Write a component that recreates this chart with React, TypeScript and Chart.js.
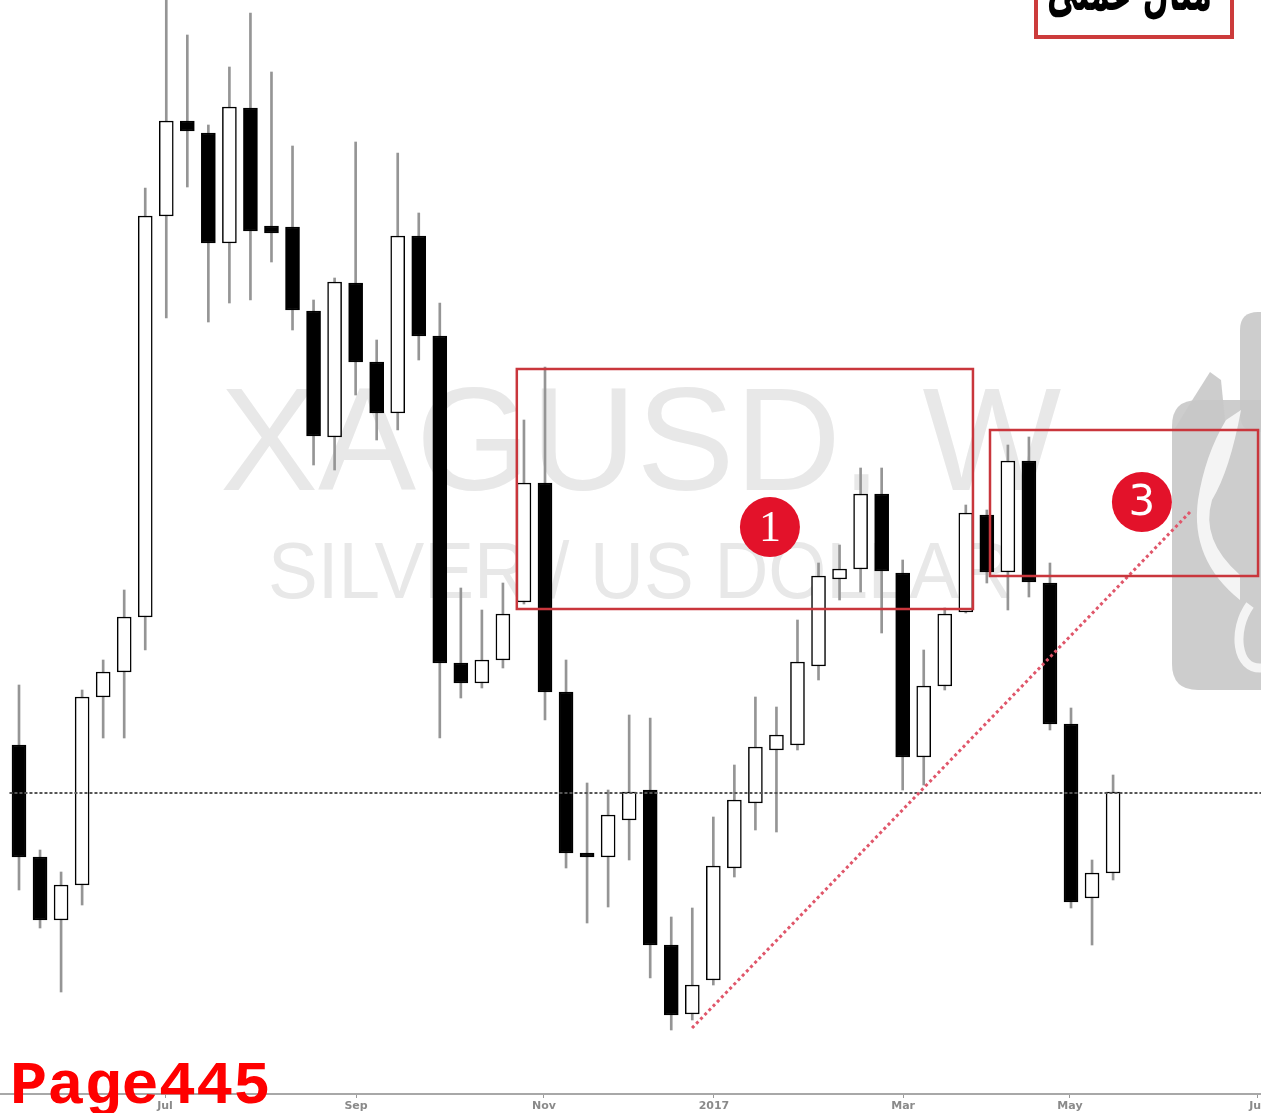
import React, { useEffect, useRef } from 'react';
import { Chart, registerables } from 'chart.js';

Chart.register(...registerables);

// ---- Weekly XAGUSD candles (index = week number) ----
const OPEN = [17.275, 16.715, 16.40, 16.575, 17.515, 17.64, 17.915, 19.92, 20.395, 20.335, 19.785, 20.46, 19.87, 19.865, 19.445, 18.815, 19.585, 19.19, 18.935, 19.82, 19.32, 17.685, 17.585, 17.70, 17.99, 18.585, 17.54, 16.735, 16.715, 16.90, 17.05, 16.275, 15.93, 16.10, 16.66, 16.985, 17.25, 17.275, 17.67, 18.105, 18.155, 18.53, 18.135, 17.215, 17.57, 17.94, 18.425, 18.14, 18.695, 18.085, 17.38, 16.51, 16.635];
const HIGH = [17.575, 16.75, 16.64, 17.55, 17.70, 18.05, 20.06, 21.05, 20.825, 20.375, 20.665, 20.935, 20.64, 20.27, 19.50, 19.61, 20.29, 19.30, 20.235, 19.935, 19.485, 18.06, 17.95, 18.085, 18.90, 19.165, 17.70, 17.085, 17.05, 17.425, 17.41, 16.415, 16.46, 16.915, 17.175, 17.515, 17.465, 17.90, 18.185, 18.275, 18.66, 18.66, 18.20, 17.75, 17.96, 18.475, 18.45, 18.775, 18.815, 18.185, 17.46, 16.70, 17.125];
const LOW = [16.55, 16.36, 16.04, 16.475, 17.31, 17.31, 17.75, 19.41, 20.065, 19.39, 19.485, 19.50, 19.69, 19.35, 18.675, 18.65, 19.025, 18.80, 18.85, 19.20, 17.31, 17.51, 17.56, 17.66, 17.98, 17.40, 16.66, 16.385, 16.465, 16.70, 16.11, 15.85, 15.90, 16.075, 16.615, 16.85, 16.84, 17.25, 17.60, 18.00, 18.04, 17.835, 17.05, 17.075, 17.55, 17.935, 18.085, 17.95, 18.015, 17.35, 16.46, 16.275, 16.60];
const CLOSE = [16.715, 16.40, 16.575, 17.515, 17.64, 17.915, 19.92, 20.395, 20.345, 19.785, 20.465, 19.845, 19.835, 19.45, 18.82, 19.59, 19.19, 18.935, 19.82, 19.32, 17.685, 17.585, 17.70, 17.93, 18.585, 17.54, 16.735, 16.715, 16.925, 17.04, 16.275, 15.925, 16.075, 16.67, 17.00, 17.265, 17.325, 17.69, 18.12, 18.155, 18.53, 18.145, 17.215, 17.57, 17.93, 18.435, 18.14, 18.695, 18.09, 17.38, 16.49, 16.635, 17.04];

// ---- Axis ----
const TICK_POS = [6.94, 16.02, 24.95, 33.03, 42.02, 49.95, 58.84];
const TICK_LABELS = ['Jul', 'Sep', 'Nov', '2017', 'Mar', 'May', 'Jul'];
const X_MIN = -0.903;
const X_MAX = 59.03;
const Y_MIN = 15.53;
const Y_MAX = 21.0;

// ---- Annotations (data units) ----
const LEVEL_PRICE = 17.035;
const TREND_X = [31.99, 55.75];
const TREND_Y = [15.86, 18.45];
const ZONE_X0 = [23.66, 46.15];
const ZONE_X1 = [45.34, 58.89];
const ZONE_TOP = [19.155, 18.85];
const ZONE_BOTTOM = [17.955, 18.12];
const BADGE_X = [35.69, 53.37];
const BADGE_Y = [18.365, 18.49];
const BADGE_TEXT = ['1', '3'];

const decorPlugin = {
  id: 'decor',
  beforeDraw(chart: any) {
    const { ctx, width, height } = chart;
    ctx.save();
    ctx.fillStyle = '#ffffff';
    ctx.fillRect(0, 0, width, height);
    ctx.restore();
  },
  beforeDatasetsDraw(chart: any) {
    const { ctx } = chart;
    ctx.save();
    // watermark text
    ctx.fillStyle = '#e8e8e8';
    ctx.textBaseline = 'alphabetic';
    ctx.textAlign = 'left';
    ctx.font = '147px "Liberation Sans", Arial, sans-serif';
    ctx.fillText('XAGUSD, W', 220, 490);
    ctx.font = '80px "Liberation Sans", Arial, sans-serif';
    ctx.fillText('SILVER / US DOLLAR', 268, 598, 745);

    // logo watermark at right
    ctx.fillStyle = 'rgba(200,200,200,0.9)';
    const rr = (x: number, y: number, w: number, h: number, r: number) => {
      ctx.beginPath();
      ctx.moveTo(x + r, y);
      ctx.lineTo(x + w - r, y);
      ctx.quadraticCurveTo(x + w, y, x + w, y + r);
      ctx.lineTo(x + w, y + h - r);
      ctx.quadraticCurveTo(x + w, y + h, x + w - r, y + h);
      ctx.lineTo(x + r, y + h);
      ctx.quadraticCurveTo(x, y + h, x, y + h - r);
      ctx.lineTo(x, y + r);
      ctx.quadraticCurveTo(x, y, x + r, y);
      ctx.closePath();
      ctx.fill();
    };
    rr(1172, 400, 130, 290, 26);
    rr(1240, 312, 60, 120, 18);
    ctx.beginPath();
    ctx.moveTo(1174, 430);
    ctx.quadraticCurveTo(1192, 400, 1210, 372);
    ctx.lineTo(1221, 380);
    ctx.lineTo(1226, 430);
    ctx.closePath();
    ctx.fill();
    // light face area
    ctx.fillStyle = '#f4f4f4';
    ctx.beginPath();
    ctx.moveTo(1226, 420);
    ctx.lineTo(1241, 410);
    ctx.quadraticCurveTo(1230, 470, 1212, 500);
    ctx.quadraticCurveTo(1200, 540, 1240, 575);
    ctx.lineTo(1240, 600);
    ctx.quadraticCurveTo(1190, 560, 1198, 500);
    ctx.quadraticCurveTo(1205, 455, 1226, 420);
    ctx.closePath();
    ctx.fill();
    ctx.strokeStyle = '#f4f4f4';
    ctx.lineWidth = 9;
    ctx.beginPath();
    ctx.moveTo(1250, 605);
    ctx.bezierCurveTo(1232, 630, 1236, 670, 1262, 668);
    ctx.stroke();
    ctx.restore();
  },
  afterDatasetsDraw(chart: any) {
    const { ctx, scales } = chart;
    const xs = scales.x;
    const ys = scales.y;
    ctx.save();
    // zones
    ctx.strokeStyle = '#c9363c';
    ctx.lineWidth = 2.5;
    for (let i = 0; i < ZONE_X0.length; i++) {
      const x0 = xs.getPixelForValue(ZONE_X0[i]);
      const x1 = xs.getPixelForValue(ZONE_X1[i]);
      const y0 = ys.getPixelForValue(ZONE_TOP[i]);
      const y1 = ys.getPixelForValue(ZONE_BOTTOM[i]);
      ctx.strokeRect(x0, y0, x1 - x0, y1 - y0);
    }
    // badges
    for (let i = 0; i < BADGE_X.length; i++) {
      const cx = xs.getPixelForValue(BADGE_X[i]);
      const cy = ys.getPixelForValue(BADGE_Y[i]);
      ctx.fillStyle = '#e3122a';
      ctx.beginPath();
      ctx.arc(cx, cy, 30, 0, Math.PI * 2);
      ctx.fill();
      ctx.fillStyle = '#ffffff';
      ctx.textAlign = 'center';
      ctx.textBaseline = 'middle';
      ctx.font = i === 0 ? '44px "Liberation Serif", serif' : '42px "DejaVu Sans", sans-serif';
      ctx.fillText(BADGE_TEXT[i], cx, cy + 2);
    }
    ctx.restore();
  },
  afterDraw(chart: any) {
    const { ctx } = chart;
    ctx.save();
    // top-right caption box
    ctx.fillStyle = '#ffffff';
    ctx.fillRect(1036, -10, 196, 47);
    ctx.strokeStyle = '#cc3b3b';
    ctx.lineWidth = 4;
    ctx.strokeRect(1036, -10, 196, 47);
    ctx.fillStyle = '#000000';
    ctx.textAlign = 'right';
    ctx.textBaseline = 'alphabetic';
    ctx.font = 'bold 58px "DejaVu Sans", sans-serif';
    ctx.fillText('مثال عملی', 1212, 10, 165);
    // page label
    ctx.fillStyle = '#ff0000';
    ctx.textAlign = 'left';
    ctx.font = 'bold 62px "Liberation Mono", monospace';
    ctx.fillText('Page445', 10, 1103);
    ctx.restore();
  },
};

export default function App() {
  const canvasRef = useRef<HTMLCanvasElement | null>(null);

  useEffect(() => {
    if (!canvasRef.current) return;
    const idx = OPEN.map((_, i) => i);
    const wicks = idx.map((i) => ({ x: i, y: [LOW[i], HIGH[i]] }));
    const bodies = idx.map((i) => ({ x: i, y: [Math.min(OPEN[i], CLOSE[i]), Math.max(OPEN[i], CLOSE[i])] }));
    const bodyColors = idx.map((i) => (CLOSE[i] >= OPEN[i] ? '#ffffff' : '#000000'));

    const chart = new Chart(canvasRef.current, {
      type: 'bar',
      data: {
        datasets: [
          {
            type: 'line',
            data: TREND_X.map((x, i) => ({ x, y: TREND_Y[i] })),
            borderColor: '#e0566a',
            borderWidth: 3,
            borderDash: [3, 3],
            pointRadius: 0,
            order: 0,
          } as any,
          {
            type: 'line',
            data: [{ x: X_MIN + 0.45, y: LEVEL_PRICE }, { x: X_MAX, y: LEVEL_PRICE }],
            borderColor: '#555555',
            borderWidth: 2,
            borderDash: [3, 2],
            pointRadius: 0,
            order: 1,
          } as any,
          {
            data: bodies as any,
            backgroundColor: bodyColors,
            borderColor: '#000000',
            borderWidth: 1.5,
            borderSkipped: false,
            barThickness: 14,
            grouped: false,
            order: 2,
          } as any,
          {
            data: wicks as any,
            backgroundColor: '#959595',
            borderWidth: 0,
            barThickness: 2,
            grouped: false,
            order: 3,
          } as any,
        ],
      },
      options: {
        animation: false,
        responsive: false,
        layout: { padding: 0 },
        plugins: { legend: { display: false }, tooltip: { enabled: false }, title: { display: false } },
        scales: {
          x: {
            type: 'linear',
            min: X_MIN,
            max: X_MAX,
            offset: false,
            grid: { display: true, offset: false, drawOnChartArea: false, drawTicks: true, tickLength: 4, color: '#999999' },
            border: { display: true, color: '#a8a8a8', width: 2 },
            afterBuildTicks: (scale: any) => {
              scale.ticks = TICK_POS.map((v) => ({ value: v }));
            },
            afterFit: (scale: any) => {
              scale.height = 19;
              scale.paddingLeft = 0;
              scale.paddingRight = 0;
            },
            ticks: {
              autoSkip: false,
              maxRotation: 0,
              padding: 2,
              color: '#8a8a8a',
              font: { size: 11, weight: 'bold', family: '"DejaVu Sans", sans-serif' },
              callback: (_v: any, i: number) => TICK_LABELS[i],
            },
          },
          y: {
            type: 'linear',
            display: false,
            min: Y_MIN,
            max: Y_MAX,
          },
        },
      } as any,
      plugins: [decorPlugin],
    });
    return () => chart.destroy();
  }, []);

  return (
    <div style={{ position: 'absolute', left: 0, top: 0, width: 1261, height: 1113, background: '#fff' }}>
      <canvas ref={canvasRef} width={1261} height={1113} style={{ display: 'block' }} />
    </div>
  );
}
